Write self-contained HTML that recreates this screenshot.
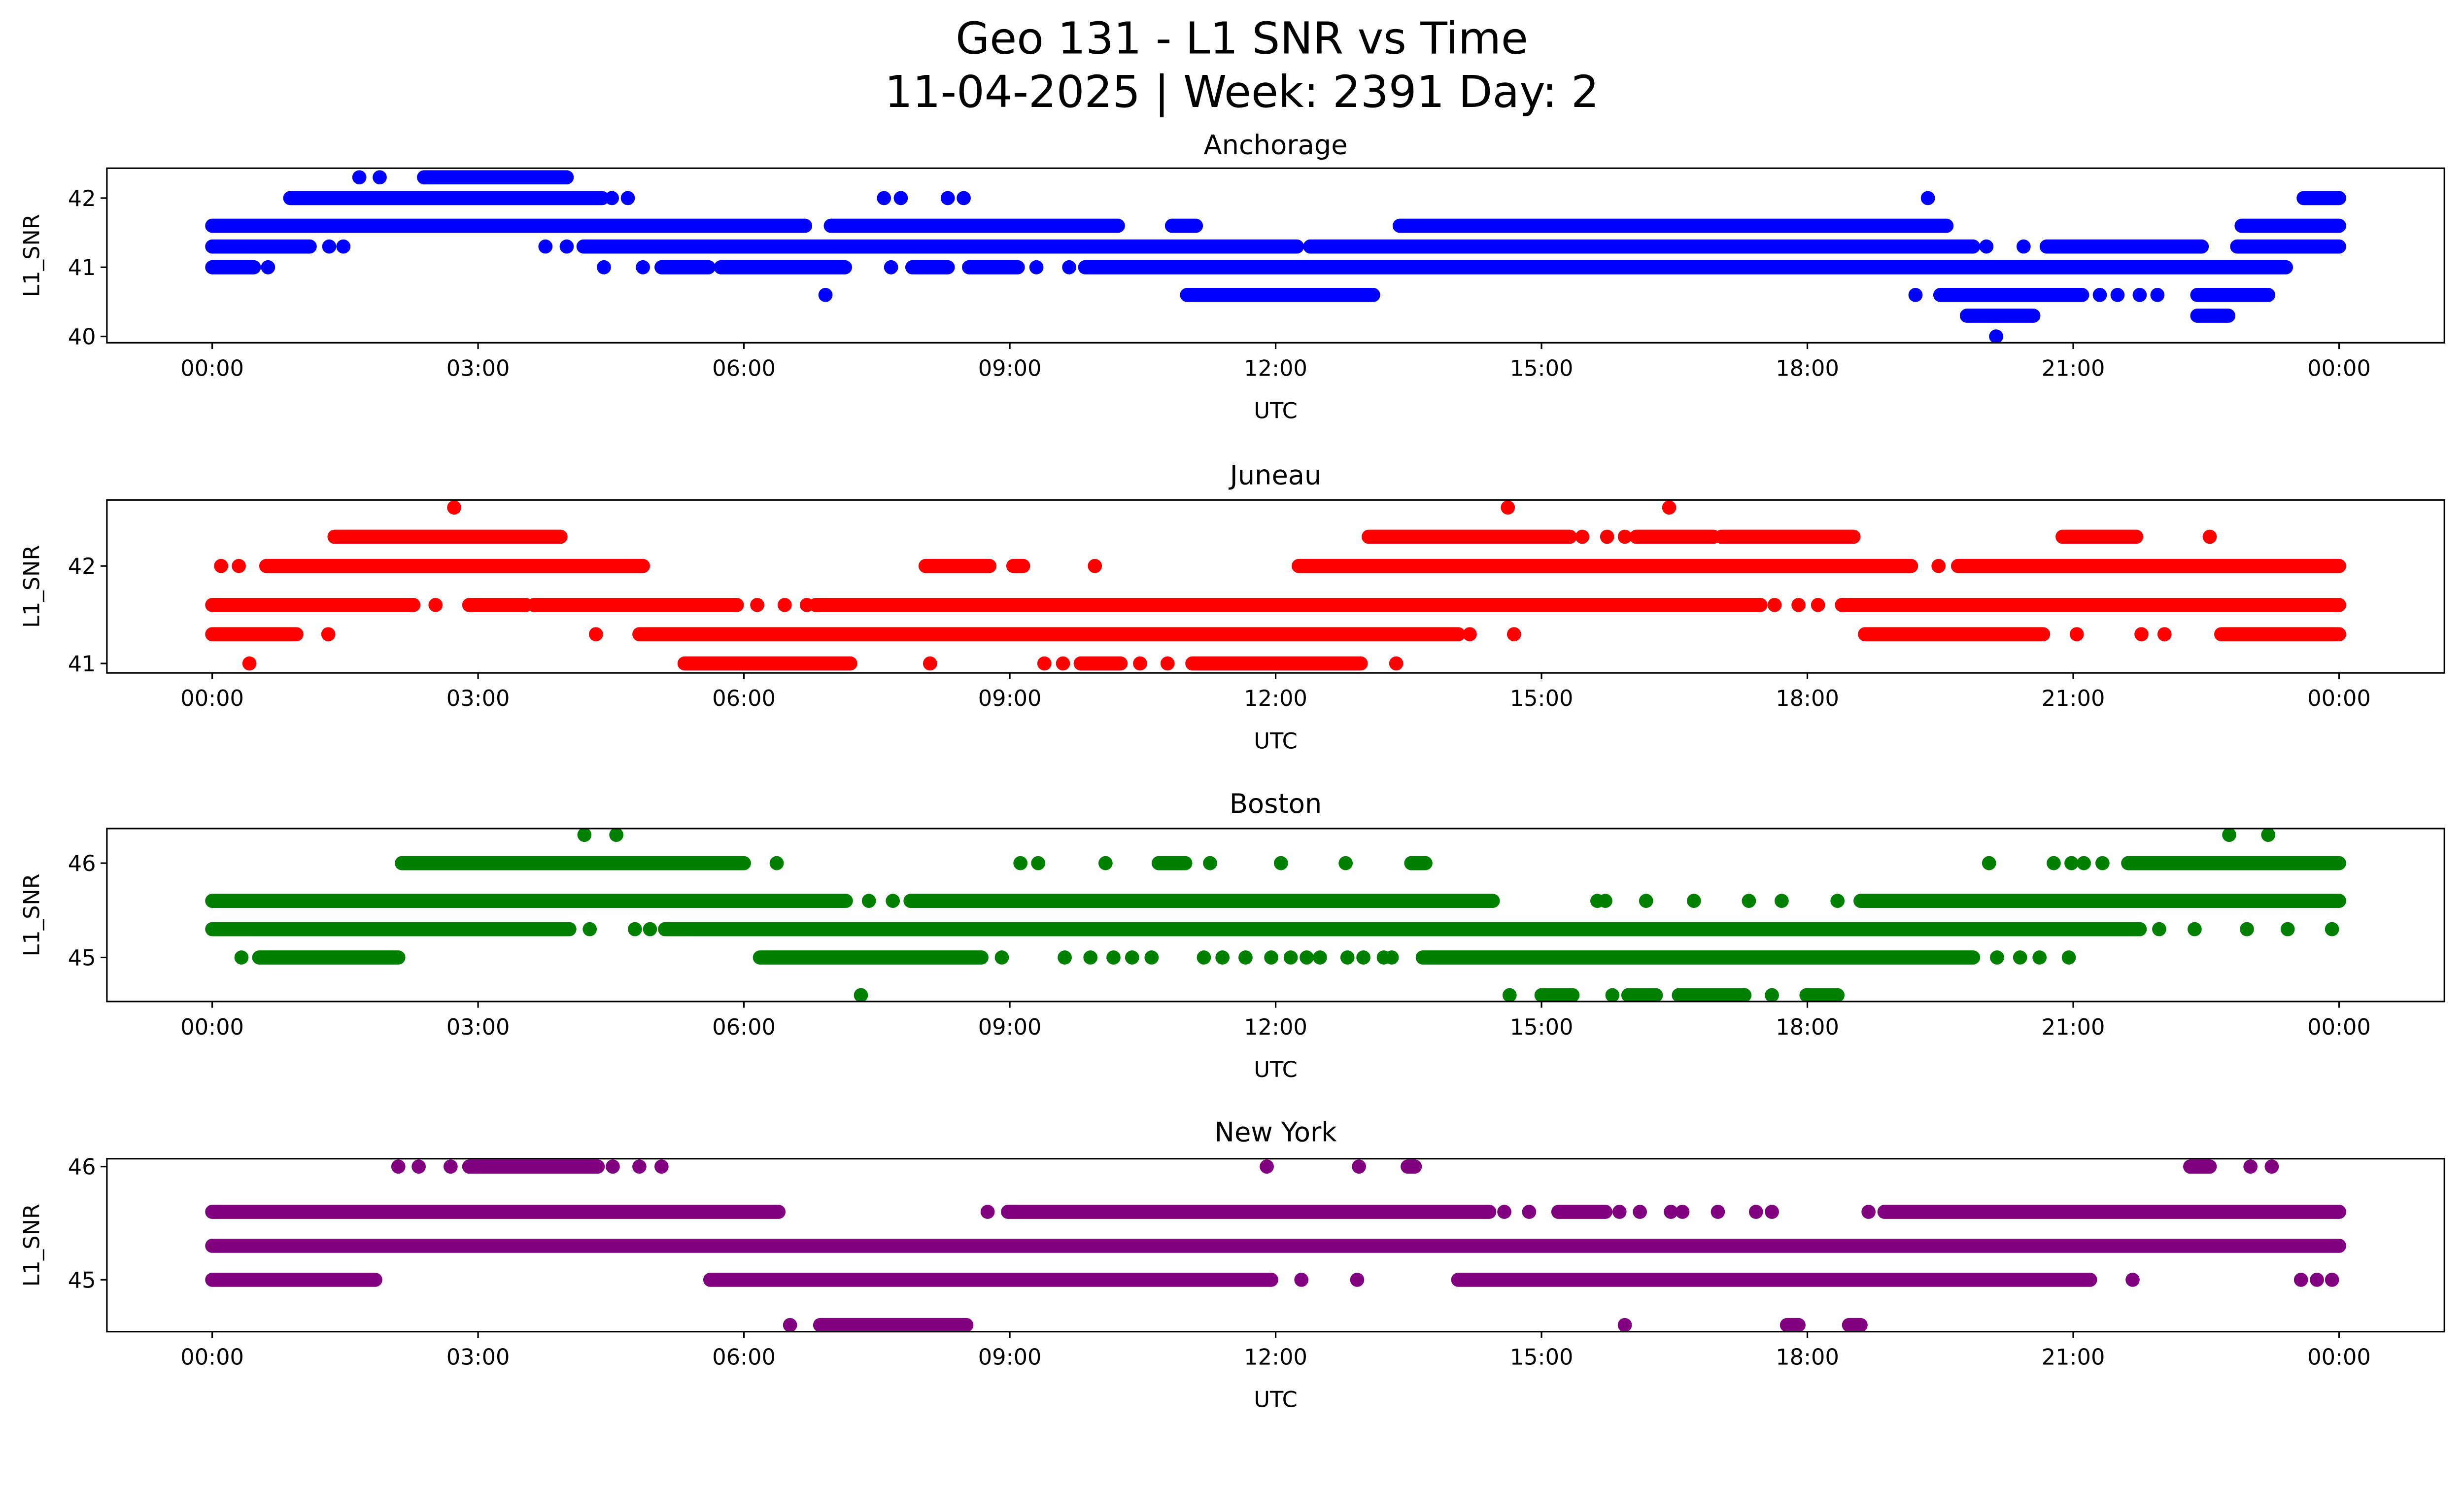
<!DOCTYPE html>
<html><head><meta charset="utf-8"><style>
html,body{margin:0;padding:0;background:#fff}
svg{display:block}
text{font-family:"DejaVu Sans","Liberation Sans",sans-serif;fill:#000}
</style></head><body>
<svg id="fig" width="5225" height="3033" viewBox="0 0 1638 950.9" preserveAspectRatio="none" xmlns="http://www.w3.org/2000/svg">
<rect width="1638" height="950.9" fill="#fff"/>
<text x="790" y="34" font-size="28" text-anchor="middle">Geo 131 - L1 SNR vs Time</text>
<text x="790" y="68" font-size="28" text-anchor="middle">11-04-2025 | Week: 2391 Day: 2</text>
<g id="plots"></g>
</svg>
<script>
// ---- data: runs [startHour,endHour] and isolated points (hours) per SNR level ----
const stations = ["Anchorage","Juneau","Boston","New York"];
const colors = ["#0000ff","#ff0000","#008000","#800080"];
const yTicks0 = [40,41,42];
const yTicks1 = [41,42];
const yTicks2 = [45,46];
const yTicks3 = [45,46];
const xTickLabels = ["00:00","03:00","06:00","09:00","12:00","15:00","18:00","21:00","00:00"];
const xTickHours = [0,3,6,9,12,15,18,21,24];

const anchorageLevels = [42.3,42,41.6,41.3,41,40.6,40.3,40];
const anchorageRuns = [
 [[2.39,4.0]],
 [[0.88,4.4],[23.6,24]],
 [[0,6.69],[6.98,10.22],[10.83,11.1],[13.4,19.57],[22.9,24]],
 [[0,1.1],[4.19,12.24],[12.39,19.87],[20.7,22.45],[22.85,24]],
 [[0,0.47],[5.07,5.6],[5.74,7.14],[7.9,8.3],[8.54,9.09],[9.85,23.4]],
 [[11.0,13.1],[19.5,21.1],[22.4,23.2]],
 [[19.8,20.55],[22.4,22.75]],
 []];
const anchoragePts = [
 [1.66,1.89],
 [4.51,4.69,7.58,7.77,8.3,8.48,19.36],
 [],
 [1.32,1.48,3.76,4.0,20.02,20.44],
 [0.63,4.42,4.86,7.66,9.3,9.67],
 [6.92,19.22,21.3,21.5,21.75,21.95],
 [],
 [20.13]];

const juneauLevels = [42.6,42.3,42,41.6,41.3,41];
const juneauRuns = [
 [],
 [[1.38,3.93],[13.05,15.32],[16.07,16.94],[17.03,18.52],[20.88,21.71]],
 [[0.61,4.86],[8.05,8.77],[9.04,9.15],[12.26,19.17],[19.7,24]],
 [[0,2.27],[2.9,3.54],[3.63,5.92],[6.81,17.47],[18.39,24]],
 [[0,0.95],[4.82,14.06],[18.65,20.66],[22.67,24]],
 [[5.33,7.2],[9.8,10.25],[11.06,12.96]]];
const juneauPts = [
 [2.73,14.62,16.44],
 [15.46,15.74,15.94,22.54],
 [0.1,0.3,9.96,19.48],
 [2.52,6.15,6.46,6.71,17.63,17.9,18.12],
 [1.31,4.33,14.19,14.69,21.04,21.77,22.03],
 [0.42,8.1,9.39,9.6,10.47,10.78,13.36]];

const bostonLevels = [46.3,46,45.6,45.3,45,44.6];
const bostonRuns = [
 [],
 [[2.14,6.0],[10.68,10.98],[13.53,13.69],[21.62,24]],
 [[0,7.15],[7.88,14.45],[18.6,24]],
 [[0,4.03],[5.11,21.75]],
 [[0.53,2.1],[6.18,8.68],[13.66,19.87]],
 [[15.0,15.35],[15.98,16.29],[16.55,17.29],[17.99,18.34]]];
const bostonPts = [
 [4.2,4.56,22.76,23.2],
 [6.37,9.12,9.32,10.08,11.26,12.06,12.79,20.05,20.78,20.98,21.12,21.33],
 [7.41,7.68,15.63,15.72,16.18,16.72,17.34,17.71,18.34],
 [4.26,4.77,4.94,21.97,22.37,22.96,23.42,23.92],
 [0.33,8.91,9.62,9.91,10.17,10.38,10.6,11.19,11.4,11.66,11.95,12.17,12.35,12.5,12.81,12.99,13.22,13.31,20.14,20.4,20.62,20.95],
 [7.32,14.64,15.8,17.6]];

const nyLevels = [46,45.6,45.3,45,44.6];
const nyRuns = [
 [[2.9,4.35],[13.49,13.57],[22.32,22.54]],
 [[0,6.39],[8.98,14.41],[15.19,15.72],[18.87,24]],
 [[0,24]],
 [[0,1.84],[5.62,11.95],[14.06,21.19]],
 [[6.86,8.51],[17.77,17.9],[18.47,18.6]]];
const nyPts = [
 [2.1,2.33,2.69,4.52,4.82,5.07,11.9,12.94,23.0,23.24],
 [8.75,14.58,14.86,15.88,16.11,16.46,16.59,16.99,17.42,17.6,18.69],
 [],
 [12.29,12.92,21.67,23.57,23.75,23.92],
 [6.52,15.94]];

// ---- layout ----
const panels = [
 {top:107,bottom:218,y0:170,ref:41,scale:44,ticks:yTicks0,levels:anchorageLevels,runs:anchorageRuns,pts:anchoragePts,title:92,utc:260},
 {top:318,bottom:428,y0:422,ref:41,scale:62,ticks:yTicks1,levels:juneauLevels,runs:juneauRuns,pts:juneauPts,title:302,utc:470},
 {top:527,bottom:637,y0:609,ref:45,scale:60,ticks:yTicks2,levels:bostonLevels,runs:bostonRuns,pts:bostonPts,title:511,utc:679},
 {top:737,bottom:847,y0:814,ref:45,scale:72,ticks:yTicks3,levels:nyLevels,runs:nyRuns,pts:nyPts,title:720,utc:889}];
const L=68,R=1555,X0=135,X1=1488;
const xs=h=>X0+(X1-X0)*h/24;
const NS="http://www.w3.org/2000/svg";
const root=document.getElementById('plots');
function mk(tag,attrs,parent){const e=document.createElementNS(NS,tag);for(const k in attrs)e.setAttribute(k,attrs[k]);parent.appendChild(e);return e;}

panels.forEach((p,i)=>{
 const ys=v=>p.y0-(v-p.ref)*p.scale;
 const g=mk('g',{},root);
 
 
 const clip=mk('clipPath',{id:'c'+i},g);
 mk('rect',{x:L,y:p.top,width:R-L,height:p.bottom-p.top},clip);
 const marks=mk('g',{'clip-path':'url(#c'+i+')'},g);
 
 
 p.levels.forEach((lv,j)=>{
  p.runs[j].forEach(r=>{
   const ln=mk('line',{x1:xs(r[0]),x2:xs(r[1]),y1:ys(lv),y2:ys(lv),stroke:colors[i],'stroke-width':9,'stroke-linecap':'round'},marks);
   
   
  });
  p.pts[j].forEach(h=>{
   const c=mk('circle',{cx:xs(h),cy:ys(lv),r:4.5,fill:colors[i]},marks);
   
   
  });
 });
 const frame=mk('rect',{x:L,y:p.top,width:R-L,height:p.bottom-p.top,fill:'none',stroke:'#000','stroke-width':1},g);
 
 
 p.ticks.forEach(v=>{
  mk('line',{x1:L-4,x2:L,y1:ys(v),y2:ys(v),stroke:'#000','stroke-width':1},g);
  const t=mk('text',{x:L-7,y:ys(v)+5,'font-size':14,'text-anchor':'end'},g);
  t.textContent=v;
  
  
 });
 xTickHours.forEach((h,k)=>{
  mk('line',{x1:xs(h),x2:xs(h),y1:p.bottom,y2:p.bottom+4,stroke:'#000','stroke-width':1},g);
  const t=mk('text',{x:xs(h),y:p.bottom+21,'font-size':14,'text-anchor':'middle'},g);
  t.textContent=xTickLabels[k];
  
  
 });
 const tt=mk('text',{x:(L+R)/2,y:p.title+6,'font-size':17,'text-anchor':'middle'},g);
 tt.textContent=stations[i];
 
 
 const xl=mk('text',{x:(L+R)/2,y:p.utc+6,'font-size':14,'text-anchor':'middle'},g);
 xl.textContent='UTC';
 
 
 const cy=(p.top+p.bottom)/2;
 const yl=mk('text',{x:25,y:cy,'font-size':14,'text-anchor':'middle',transform:'rotate(-90 25 '+cy+')'},g);
 yl.textContent='L1_SNR';
 
 
});
</script>
</body></html>
